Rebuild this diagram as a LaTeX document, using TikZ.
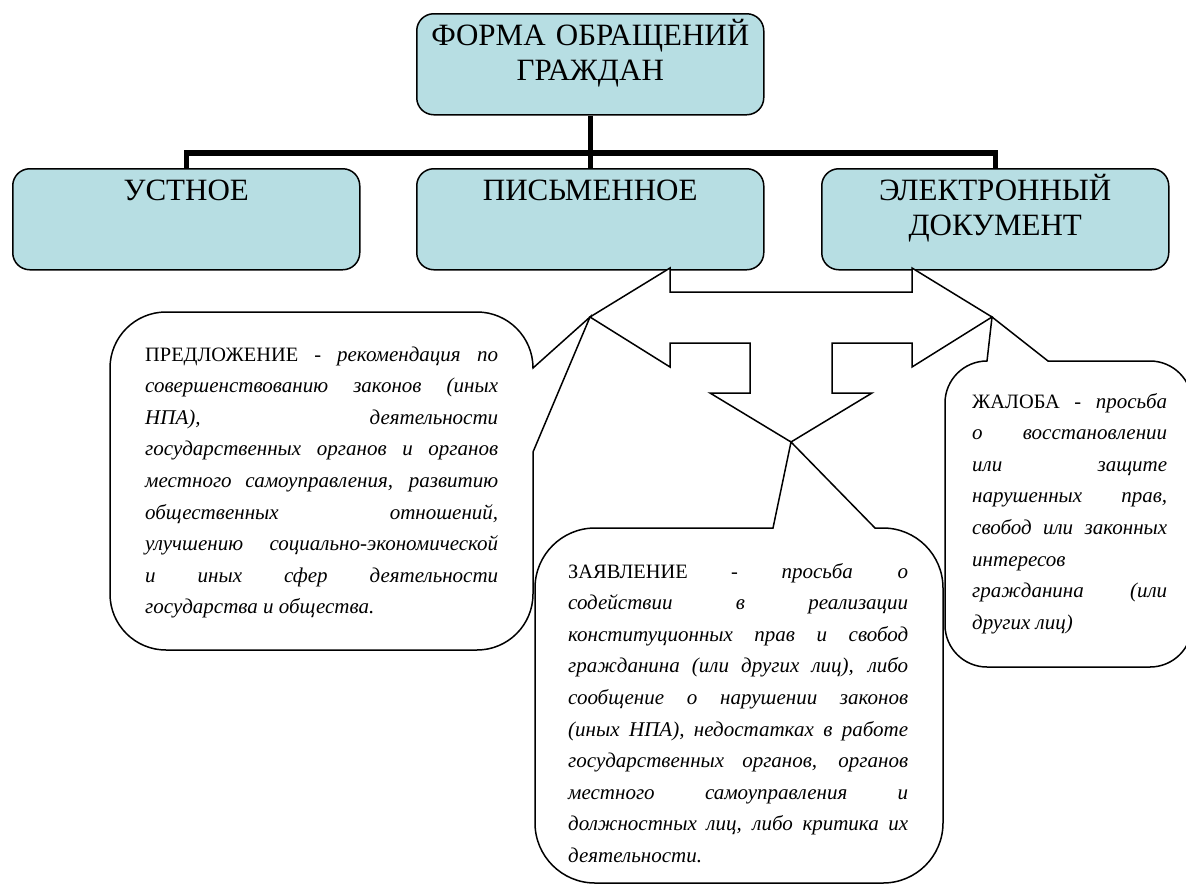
\documentclass[tikz,border=0pt]{standalone}
\usepackage{fontspec}
\setmainfont{Liberation Serif}
\definecolor{hdrblue}{RGB}{183,222,227}
\tolerance=10000
\hbadness=10000
\hyphenpenalty=10000
\exhyphenpenalty=10000
\newcommand\noteit[1]{{\fontsize{21}{31.6}\selectfont\itshape #1}}

\tikzset{
  hdr/.style={draw, line width=1.5pt, fill=hdrblue, rounded corners=17pt,
    text width=347pt, align=center, inner xsep=0pt, inner ysep=0pt,
    text height=31.5pt, text depth=69.5pt, anchor=north west,
    font=\fontsize{31}{35.6}\selectfont},
  bubble/.style={draw, line width=1.5pt, fill=white},
  link/.style={draw, line width=5.5pt},
  note/.style={text width=#1, align=justify, inner sep=0pt, anchor=base west,
    font=\fontsize{20.4}{31.6}\selectfont}
}

\begin{document}
\begin{tikzpicture}[x=1pt, y=-1pt]

                \useasboundingbox (0,0) rectangle (1186,884);
                \clip (0,0) rectangle (1186,884);

                % Draw header boxes
                \node[hdr] (main) at (416,13) {ФОРМА ОБРАЩЕНИЙ\\ГРАЖДАН};
                \node[hdr] (oral) at (12,168) {УСТНОЕ};
                \node[hdr] (written) at (416,168) {ПИСЬМЕННОЕ};
                \node[hdr] (elec) at (821,168) {ЭЛЕКТРОННЫЙ\\ДОКУМЕНТ};

                % Tree lines
                \coordinate (bus) at (589.5,153);
                \draw[link] (main.south) -- (written.north);
                \draw[link] (oral.north) |- (bus) -| (elec.north);

                % Arrow tips
                \coordinate (ltip) at (590,317);
                \coordinate (rtip) at (992,317);
                \coordinate (dtip) at (791,442);

                % Three-way arrow
                \draw[bubble] (ltip) -- (670,268) -- (670,292) -- (912,292)
                    -- (912,268) -- (rtip) -- (912,367) -- (912,343)
                    -- (832,343) -- (832,393) -- (872,393) -- (dtip)
                    -- (710,393) -- (750,393) -- (750,343) -- (670,343)
                    -- (670,367) -- cycle;

                % Callouts
                \draw[bubble] (166,312) -- (477,312)
                    arc[start angle=-90, end angle=0, radius=56] -- (ltip)
                    -- (533,452) -- (533,594)
                    arc[start angle=0, end angle=90, radius=56] -- (166,650)
                    arc[start angle=90, end angle=180, radius=56] -- (110,368)
                    arc[start angle=180, end angle=270, radius=56] -- cycle;

                \draw[bubble] (595,528) -- (773,528) -- (dtip) -- (875,528)
                    -- (883,528)
                    arc[start angle=-90, end angle=0, radius=60] -- (943,823)
                    arc[start angle=0, end angle=90, radius=60] -- (595,883)
                    arc[start angle=90, end angle=180, radius=60] -- (535,588)
                    arc[start angle=180, end angle=270, radius=60] -- cycle;

                \draw[bubble] (1048,361) -- (1150,361)
                    arc[start angle=-90, end angle=0, radius=42] -- (1192,625)
                    arc[start angle=0, end angle=90, radius=42] -- (987,667)
                    arc[start angle=90, end angle=180, radius=42] -- (945,403)
                    arc[start angle=180, end angle=270, radius=42] -- (rtip)
                    -- cycle;

                % Callout texts
                \node[note=353pt] (offer) at (145,361) {ПРЕДЛОЖЕНИЕ - \noteit{рекомендация по\linebreak
                    совершенствованию законов (иных\linebreak
                    НПА), деятельности\linebreak
                    государственных органов и органов\linebreak
                    местного самоуправления, развитию\linebreak
                    общественных отношений,\linebreak
                    улучшению социально-экономической\linebreak
                    и иных сфер деятельности\linebreak
                    государства и общества.}};

                \node[note=340pt] (claim) at (568,578) {ЗАЯВЛЕНИЕ - \noteit{просьба о\linebreak
                    содействии в реализации\linebreak
                    конституционных прав и свобод\linebreak
                    гражданина (или других лиц), либо\linebreak
                    сообщение о нарушении законов\linebreak
                    (иных НПА), недостатках в работе\linebreak
                    государственных органов, органов\linebreak
                    местного самоуправления и\linebreak
                    должностных лиц, либо критика их\linebreak
                    деятельности.}};

                \node[note=195pt] (plaint) at (972,408) {ЖАЛОБА - \noteit{просьба\linebreak
                    о восстановлении\linebreak
                    или защите\linebreak
                    нарушенных прав,\linebreak
                    свобод или законных\linebreak
                    интересов\linebreak
                    гражданина (или\linebreak
                    других лиц)}};

\end{tikzpicture}
\end{document}
